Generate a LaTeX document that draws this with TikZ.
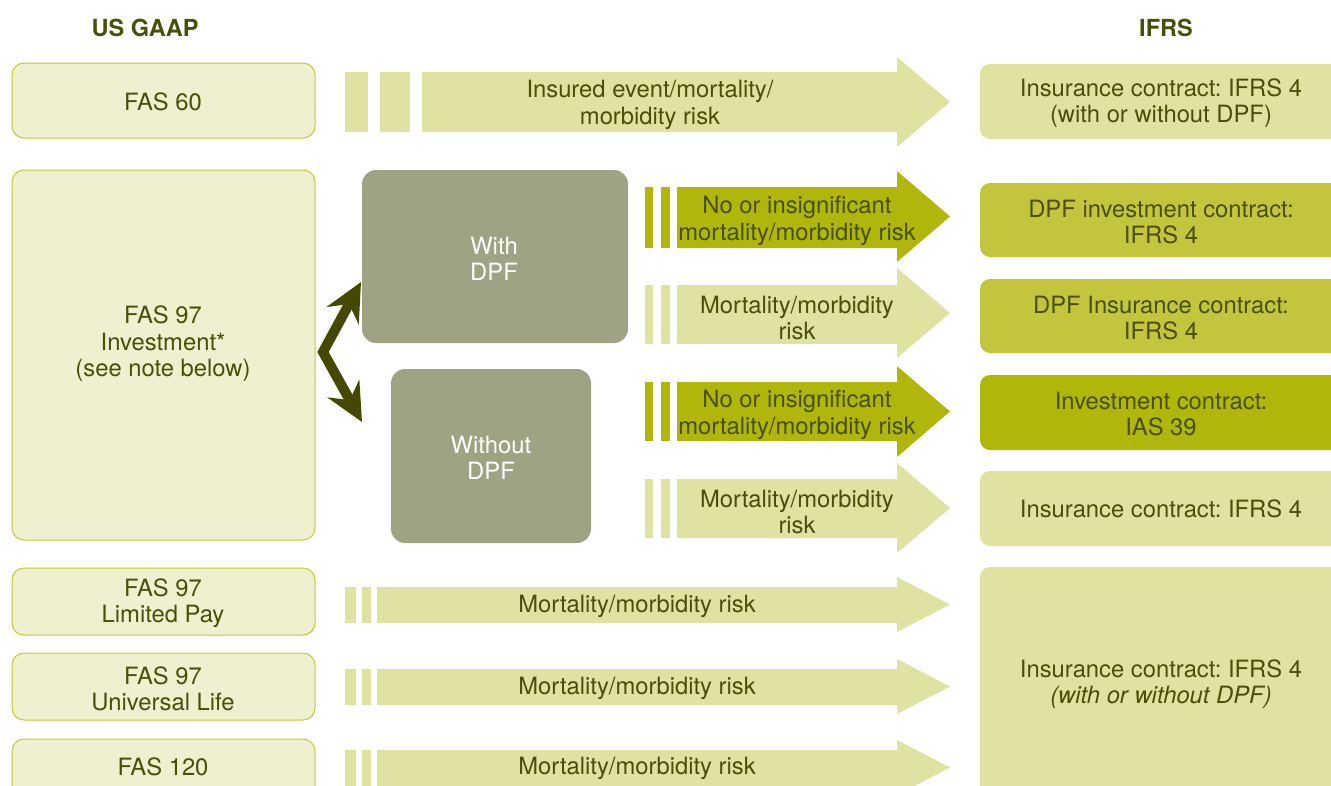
\documentclass[tikz,border=0pt]{standalone}
\usepackage{fontspec}
\setmainfont{TeX Gyre Heros}
\usetikzlibrary{arrows.meta}
\frenchspacing
\definecolor{txt}{RGB}{72,80,8}
\definecolor{leftfill}{RGB}{238,240,207}
\definecolor{leftline}{RGB}{196,200,50}
\definecolor{light}{RGB}{223,226,160}
\definecolor{medium}{RGB}{195,198,60}
\definecolor{dark}{RGB}{176,183,10}
\definecolor{greybox}{RGB}{160,163,131}
\definecolor{bentcol}{RGB}{68,72,0}
\tikzset{
  lbl/.style={text=txt, align=center, font=\fontsize{23.8}{26.5}\selectfont, inner sep=0pt},
  head/.style={text=txt, font=\fontsize{23.5}{26}\selectfont\bfseries, inner sep=0pt},
  leftbox/.style={fill=leftfill, draw=leftline, line width=1pt, rounded corners=12pt},
  rightbox/.style={rounded corners=10pt},
  greyshape/.style={fill=greybox, rounded corners=14pt},
  whitelbl/.style={text=white, align=center, font=\fontsize{23.8}{26.5}\selectfont, inner sep=0pt},
  bent/.style={draw=bentcol, line width=10pt, line join=miter,
    {Stealth[length=38pt,width=36pt,inset=13pt]}-{Stealth[length=38pt,width=36pt,inset=13pt]}}
}
% #1 colour, #2 body x0, #3 body top, #4 body bottom, #5 head top, #6 head bottom
\newcommand\fatarrow[6]{%
  \fill[#1] (#2,#3) -- (897,#3) -- (897,#5) -- (950,{(#5+#6)/2}) -- (897,#6) -- (897,#4) -- (#2,#4) -- cycle;}
\begin{document}
\begin{tikzpicture}[x=1pt,y=-1pt]
\useasboundingbox (0,0) rectangle (1331,785);
\clip (0,0) rectangle (1331,785);

% headings
\node[head] (usgaap) at (145,28) {US GAAP};
\node[head] (ifrs) at (1166,28) {IFRS};

% left boxes
\path[leftbox] (12,63) rectangle (315,138);
\node[lbl] (fas60) at (163,102) {FAS 60};
\path[leftbox] (12,170) rectangle (315,540);
\coordinate (fas97e) at (323,352);
\node[lbl] (fas97) at (163,344) {FAS 97\\Investment*\\(see note below)};
\path[leftbox] (12,568) rectangle (315,635);
\node[lbl] (fasltd) at (163,603) {FAS 97\\Limited Pay};
\path[leftbox] (12,653) rectangle (315,720);
\node[lbl] (fasul) at (163,689) {FAS 97\\Universal Life};
\path[leftbox] (12,739) rectangle (315,810);
\node[lbl] (fas120) at (163,767) {FAS 120};

% grey boxes
\path[greyshape] (362,170) rectangle (628,343);
\node[whitelbl] (withdpf) at (494,259) {With\\DPF};
\path[greyshape] (391,369) rectangle (591,543);
\node[whitelbl] (withoutdpf) at (491,458) {Without\\DPF};

% bent double arrow
\coordinate (ttop) at (361,282);
\coordinate (tbot) at (362,422);
\draw[bent] (ttop) -- (fas97e) -- (tbot);

% row 1
\fill[light] (345,72) rectangle (368,132);
\fill[light] (380,72) rectangle (410,132);
\fatarrow{light}{422}{72}{132}{57}{147}
\node[lbl] (a1) at (650,105) {Insured event/mortality/\\morbidity risk};

% rows 2-5
\fill[dark] (645,187) rectangle (653,248);
\fill[dark] (661,187) rectangle (670,248);
\fatarrow{dark}{677}{187}{248}{171}{262}
\node[lbl] (a2) at (797,221) {No or insignificant\\mortality/morbidity risk};

\fill[light] (645,285) rectangle (653,344);
\fill[light] (661,285) rectangle (670,344);
\fatarrow{light}{677}{285}{344}{268}{358}
\node[lbl] (a3) at (797,318) {Mortality/morbidity\\risk};

\fill[dark] (645,382) rectangle (653,441);
\fill[dark] (661,382) rectangle (670,441);
\fatarrow{dark}{677}{382}{441}{366}{457}
\node[lbl] (a4) at (797,415) {No or insignificant\\mortality/morbidity risk};

\fill[light] (645,479) rectangle (653,538);
\fill[light] (661,479) rectangle (670,538);
\fatarrow{light}{677}{479}{538}{463}{553}
\node[lbl] (a5) at (797,512) {Mortality/morbidity\\risk};

% rows 6-8
\fill[light] (345,587) rectangle (356,623);
\fill[light] (362,587) rectangle (371,623);
\fatarrow{light}{377}{587}{623}{577}{632}
\node[lbl] (a6) at (637,606) {Mortality/morbidity risk};

\fill[light] (345,669) rectangle (356,705);
\fill[light] (362,669) rectangle (371,705);
\fatarrow{light}{377}{669}{705}{659}{714}
\node[lbl] (a7) at (637,688) {Mortality/morbidity risk};

\fill[light] (345,750) rectangle (356,786);
\fill[light] (362,750) rectangle (371,786);
\fatarrow{light}{377}{750}{786}{740}{795}
\node[lbl] (a8) at (637,768) {Mortality/morbidity risk};

% right boxes
\fill[light, rightbox] (980,64) rectangle (1360,139);
\node[lbl] (r1) at (1161,103) {Insurance contract: IFRS 4\\(with or without DPF)};
\fill[medium, rightbox] (980,183) rectangle (1360,257);
\node[lbl] (r2) at (1161,222) {DPF investment contract:\\IFRS 4};
\fill[medium, rightbox] (980,279) rectangle (1360,353);
\node[lbl] (r3) at (1161,318) {DPF Insurance contract:\\IFRS 4};
\fill[dark, rightbox] (980,375) rectangle (1360,450);
\node[lbl] (r4) at (1161,414) {Investment contract:\\IAS 39};
\fill[light, rightbox] (980,471) rectangle (1360,546);
\node[lbl] (r5) at (1161,509) {Insurance contract: IFRS 4};
\fill[light, rightbox] (980,567) rectangle (1360,820);
\node[lbl] (r6) at (1161,684) {Insurance contract: IFRS 4\\\textit{(with or without DPF)}};
\end{tikzpicture}
\end{document}
